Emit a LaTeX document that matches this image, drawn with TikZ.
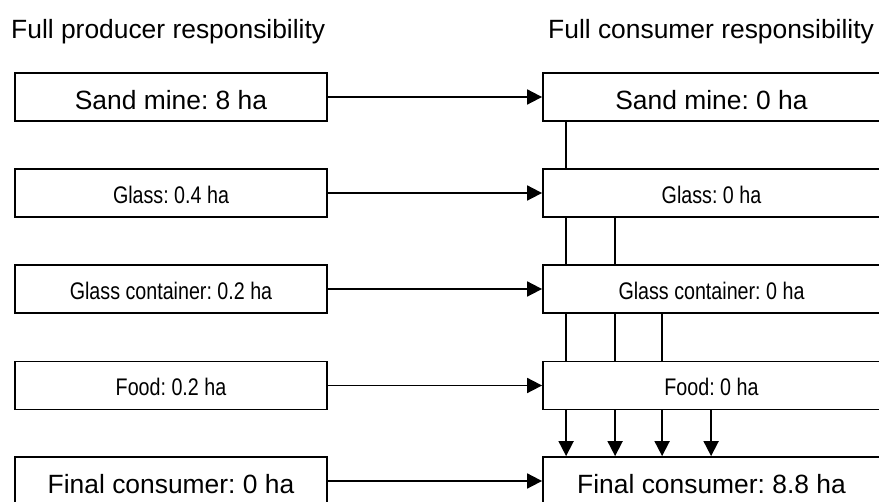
\documentclass[tikz,border=0pt]{standalone}
\usepackage{fontspec}
\setmainfont{Liberation Sans}
\newfontfamily\narrowfont[FakeStretch=0.82]{Liberation Sans}
\usetikzlibrary{arrows.meta}
\frenchspacing

\begin{document}
\begin{tikzpicture}[x=1pt,y=-1pt,
 box/.style={draw, line width=1.8pt, minimum height=48pt, inner sep=0pt, text height=24.6pt, text depth=0pt, font=\fontsize{26.4}{30}\selectfont},
 lbox/.style={box, minimum width=312pt},
 rbox/.style={box, minimum width=337pt},
 small/.style={text height=20.6pt, font=\narrowfont\fontsize{24}{28}\selectfont},
 conn/.style={line width=1.8pt},
 arr/.style={conn, -{Triangle[length=15pt,width=15pt]}},
 title/.style={anchor=base west, inner sep=0pt, font=\fontsize{26.4}{30}\selectfont}]
\useasboundingbox (0,0) rectangle (879,502);
\clip (0,0) rectangle (879,502);
\node[title] (t1) at (11,38.3) {Full producer responsibility};
\node[title] (t2) at (548,38.3) {Full consumer responsibility};

\node[lbox] (ls) at (171,97) {Sand mine: 8 ha};
\node[lbox,small] (lg) at (171,193) {Glass: 0.4 ha};
\node[lbox,small] (lc) at (171,289) {Glass container: 0.2 ha};
\node[lbox,small] (lf) at (171,385.5) {Food: 0.2 ha};
\node[lbox] (lp) at (171,481) {Final consumer: 0 ha};

\node[rbox] (rs) at (711.5,97) {Sand mine: 0 ha};
\node[rbox,small] (rg) at (711.5,193) {Glass: 0 ha};
\node[rbox,small] (rc) at (711.5,289) {Glass container: 0 ha};
\node[rbox,small] (rf) at (711.5,385.5) {Food: 0 ha};
\node[rbox] (rp) at (711.5,481) {Final consumer: 8.8 ha};

\draw[arr] (ls.east) -- (rs.west);
\draw[arr] (lg.east) -- (rg.west);
\draw[arr] (lc.east) -- (rc.west);
\draw[arr] (lf.east) -- (rf.west);
\draw[arr] (lp.east) -- (rp.west);

\draw[conn] ([xshift=24pt]rs.south west) -- ([xshift=24pt]rg.north west);
\foreach \d in {24,73}
  \draw[conn] ([xshift=\d pt]rg.south west) -- ([xshift=\d pt]rc.north west);
\foreach \d in {24,73,120}
  \draw[conn] ([xshift=\d pt]rc.south west) -- ([xshift=\d pt]rf.north west);
\foreach \d in {24,73,120,169}
  \draw[arr] ([xshift=\d pt]rf.south west) -- ([xshift=\d pt]rp.north west);
\end{tikzpicture}
\end{document}
